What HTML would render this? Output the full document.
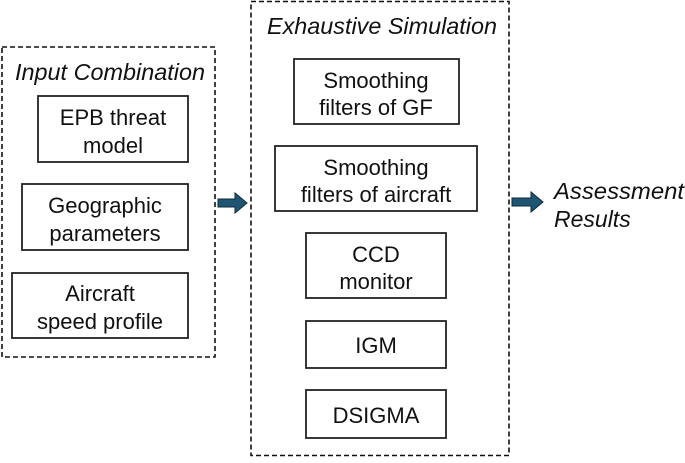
<!DOCTYPE html>
<html><head><style>
body{margin:0;background:#fff;}
svg text{font-family:"Liberation Sans",sans-serif;fill:#111;}
</style></head><body>
<svg width="685" height="458" viewBox="0 0 685 458" xmlns="http://www.w3.org/2000/svg">
<g fill="none" stroke="#111" stroke-width="1.6" stroke-dasharray="5,3">
<rect x="2" y="47" width="213" height="310"/>
<rect x="251" y="1.5" width="258" height="454"/>
</g>
<g fill="#fff" stroke="#222" stroke-width="1.8">
<rect x="38" y="96" width="150" height="66"/>
<rect x="22" y="184" width="166" height="66"/>
<rect x="12" y="273" width="176" height="65"/>
<rect x="294" y="59" width="165" height="65"/>
<rect x="275" y="146" width="202" height="65"/>
<rect x="306" y="233" width="140" height="65"/>
<rect x="306" y="321" width="140" height="47"/>
<rect x="306" y="390" width="140" height="48"/>
</g>
<g font-size="23" font-style="italic" text-anchor="middle">
<text x="110" y="80" textLength="190" lengthAdjust="spacingAndGlyphs">Input Combination</text>
<text x="382" y="34" textLength="230" lengthAdjust="spacingAndGlyphs">Exhaustive Simulation</text>
</g>
<g font-size="23" font-style="italic">
<text x="554" y="199" textLength="130" lengthAdjust="spacingAndGlyphs">Assessment</text>
<text x="554" y="227">Results</text>
</g>
<g font-size="22" text-anchor="middle">
<text x="113" y="125">EPB threat</text><text x="113" y="153">model</text>
<text x="105" y="213">Geographic</text><text x="105" y="241">parameters</text>
<text x="100" y="301">Aircraft</text><text x="100" y="329">speed profile</text>
<text x="376" y="88">Smoothing</text><text x="376" y="115">filters of GF</text>
<text x="376" y="175">Smoothing</text><text x="376" y="202">filters of aircraft</text>
<text x="376" y="262">CCD</text><text x="376" y="289">monitor</text>
<text x="376" y="353">IGM</text>
<text x="376" y="423">DSIGMA</text>
</g>
<g fill="#1e5573" stroke="#0e2a3a" stroke-width="1">
<path d="M218,199 h17 v-6 l12,10 l-12,10 v-6 h-17 z"/>
<path d="M512,198 h19 v-6 l12,10 l-12,10 v-6 h-19 z"/>
</g>
</svg>
</body></html>
